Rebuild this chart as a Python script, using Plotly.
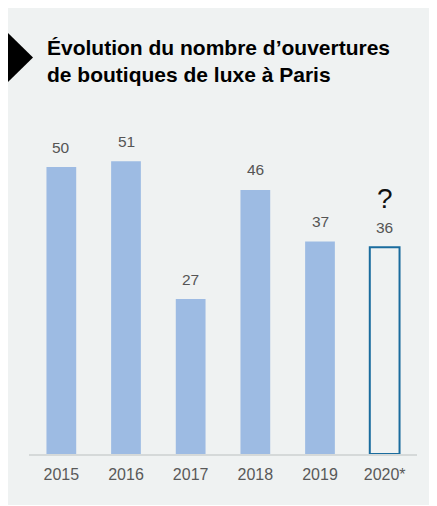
import plotly.graph_objects as go

years = ["2015", "2016", "2017", "2018", "2019", "2020*"]
values = [50, 51, 27, 46, 37, 36]
fill_colors = ["#9dbbe3", "#9dbbe3", "#9dbbe3", "#9dbbe3", "#9dbbe3", "#eff2f2"]
line_colors = ["#9dbbe3", "#9dbbe3", "#9dbbe3", "#9dbbe3", "#9dbbe3", "#1a6c9e"]
line_widths = [0, 0, 0, 0, 0, 2]
title_text = "Évolution du nombre d’ouvertures<br>de boutiques de luxe à Paris"

W, H = 429, 497
L, R, T, B = 21, 20, 92, 51
pw, ph = W - L - R, H - T - B

def px_x(x):
    return (x - L) / pw

def px_y(y):
    return (H - B - y) / ph

pos = list(range(len(years)))

fig = go.Figure()
fig.add_trace(go.Bar(
    x=pos, y=values, width=0.46,
    marker=dict(color=fill_colors, line=dict(color=line_colors, width=line_widths)),
    hoverinfo="skip",
))

annotations = []
for p, v in zip(pos, values):
    annotations.append(dict(x=p, y=v, xref="x", yref="y", text=str(v), showarrow=False,
                            yshift=20, font=dict(family="Liberation Sans", size=15.5, color="#555555")))
annotations.append(dict(x=pos[-1], y=values[-1], xref="x", yref="y", text="?", showarrow=False,
                        yshift=49, font=dict(family="Liberation Sans", size=28, color="#111111")))

shapes = [
    dict(type="path", xref="paper", yref="paper",
         path=f"M {px_x(0)},{px_y(25)} L {px_x(25)},{px_y(49.5)} L {px_x(0)},{px_y(74)} Z",
         fillcolor="#000000", line=dict(width=0)),
]

fig.update_layout(
    width=W, height=H,
    margin=dict(l=L, r=R, t=T, b=B, pad=0, autoexpand=False),
    paper_bgcolor="#eff2f2", plot_bgcolor="#eff2f2",
    showlegend=False,
    title=dict(text=title_text, x=39 / W, xanchor="left", xref="container",
               y=1 - 47 / H, yanchor="middle", yref="container",
               font=dict(family="Liberation Sans", size=21, color="#000000", weight="bold")),
    xaxis=dict(tickmode="array", tickvals=pos, ticktext=years, range=[-0.5, len(years) - 0.5],
               showline=True, linecolor="#d5d9d9", linewidth=2, ticks="", showgrid=False, zeroline=False,
               ticklabelstandoff=5,
               tickfont=dict(family="Liberation Sans", size=16, color="#595959"), fixedrange=True),
    yaxis=dict(range=[0, ph / 5.74], visible=False, showgrid=False, zeroline=False, fixedrange=True),
    annotations=annotations, shapes=shapes,
)

fig.write_html("out.html", config={"displayModeBar": False})
